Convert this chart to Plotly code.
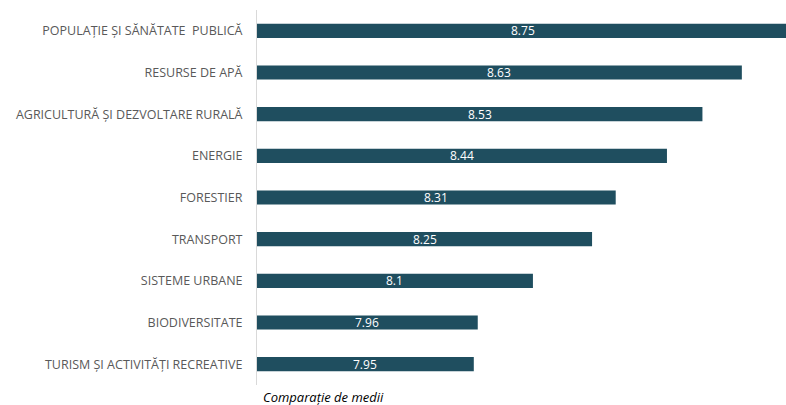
import plotly.graph_objects as go

categories = [
    "POPULAȚIE ȘI SĂNĂTATE  PUBLICĂ",
    "RESURSE DE APĂ",
    "AGRICULTURĂ ȘI DEZVOLTARE RURALĂ",
    "ENERGIE",
    "FORESTIER",
    "TRANSPORT",
    "SISTEME URBANE",
    "BIODIVERSITATE",
    "TURISM ȘI ACTIVITĂȚI RECREATIVE",
]
values = [8.75, 8.63, 8.53, 8.44, 8.31, 8.25, 8.1, 7.96, 7.95]
value_labels = ["8.75", "8.63", "8.53", "8.44", "8.31", "8.25", "8.1", "7.96", "7.95"]
axis_title = "Comparație de medii"

x_min, x_max = 7.40, 8.742

fig = go.Figure(go.Bar(
    y=categories,
    x=values,
    orientation="h",
    marker=dict(color="#1F4E5F", line=dict(width=0)),
    textposition="none",
    hoverinfo="x+y",
))

# value labels centred on the visible part of each bar
for cat, v, lab in zip(categories, values, value_labels):
    fig.add_annotation(
        x=(x_min + v) / 2,
        y=cat, xref="x", yref="y", text=lab, showarrow=False,
        font=dict(family="Open Sans", size=12, color="white"),
        xanchor="center", yanchor="middle",
    )

fig.update_layout(
    width=786, height=405,
    margin=dict(l=257, r=0, t=10, b=20, autoexpand=False),
    paper_bgcolor="white", plot_bgcolor="white",
    bargap=0.66,
    showlegend=False,
)
fig.update_xaxes(range=[x_min, x_max], visible=False, fixedrange=True)
fig.update_yaxes(
    autorange="reversed", automargin=False,
    showline=True, linecolor="#D9D9D9", linewidth=1,
    showgrid=False, ticks="",
    ticklabelstandoff=11,
    tickfont=dict(family="Open Sans", size=12.5, color="#595959"),
)
fig.add_annotation(
    text="<i>" + axis_title + "</i>",
    xref="paper", yref="paper", x=0, y=0, xshift=4, yshift=-1,
    xanchor="left", yanchor="top", showarrow=False,
    font=dict(family="Open Sans", size=13, color="#000000"),
)
fig.write_html(
    "out.html",
    config={"displayModeBar": False},
    post_script="document.body.style.margin='0';document.body.style.overflow='hidden';",
)
